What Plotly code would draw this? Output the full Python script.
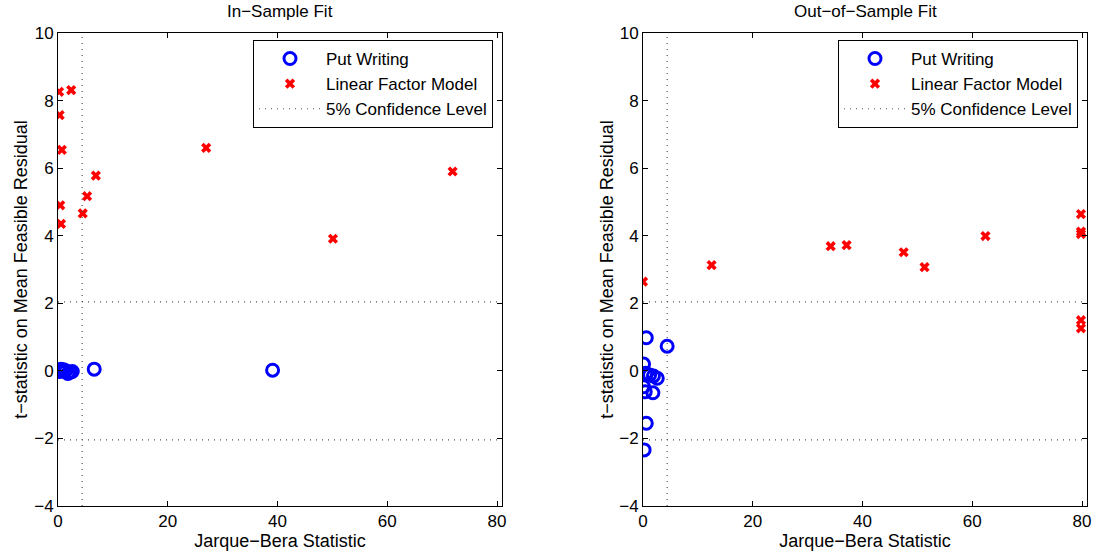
import plotly.graph_objects as go

# In-sample data
in_put_x = [0.3, 0.5, 0.8, 1.0, 1.4, 1.8, 2.2, 2.6, 6.6, 39.1]
in_put_y = [-0.02, 0.05, 0.0, 0.03, 0.0, -0.08, -0.04, -0.02, 0.05, 0.02]
in_lfm_x = [0.2, 2.4, 0.3, 0.7, 6.9, 5.3, 0.4, 4.5, 0.55, 27.0, 50.1, 71.9]
in_lfm_y = [8.26, 8.31, 7.57, 6.54, 5.78, 5.17, 4.90, 4.66, 4.35, 6.60, 3.91, 5.90]

# Out-of-sample data
out_put_x = [0.6, 4.4, 0.1, 0.5, 1.2, 1.9, 2.6, 0.1, 0.4, 1.8, 0.6, 0.2]
out_put_y = [0.98, 0.73, 0.2, -0.07, -0.12, -0.15, -0.22, -0.47, -0.62, -0.65, -1.55, -2.34]
out_lfm_x = [0.0, 12.5, 34.2, 37.1, 47.5, 51.3, 62.4, 79.8, 79.8, 79.8, 79.8, 79.8]
out_lfm_y = [2.64, 3.13, 3.69, 3.72, 3.51, 3.07, 3.99, 4.64, 4.12, 4.05, 1.50, 1.26]

jb_crit = 4.4
t_crit = 2.04
x_range = [0, 80.9]
y_range = [-4, 10]
x_ticks = [0, 20, 40, 60, 80]
y_ticks = [-4, -2, 0, 2, 4, 6, 8, 10]

FONT = "Liberation Sans, Arial, sans-serif"

fig = go.Figure()

def add_panel(px, py, lx, ly, xa, ya, legend):
    fig.add_trace(go.Scatter(x=px, y=py, mode="markers", name="Put Writing",
                             marker=dict(symbol="circle-open", size=12, color="#0000ff",
                                         line=dict(width=3, color="#0000ff")),
                             xaxis=xa, yaxis=ya, legend=legend))
    fig.add_trace(go.Scatter(x=lx, y=ly, mode="markers", name="Linear Factor Model",
                             marker=dict(symbol="x", size=9, color="#ff0000",
                                         line=dict(width=0)),
                             xaxis=xa, yaxis=ya, legend=legend))
    lx_ = [jb_crit, jb_crit, None, x_range[0], x_range[1], None, x_range[0], x_range[1]]
    ly_ = [y_range[0], y_range[1], None, t_crit, t_crit, None, -t_crit, -t_crit]
    fig.add_trace(go.Scatter(x=lx_, y=ly_, mode="lines", name="5% Confidence Level",
                             line=dict(color="#555555", width=1.2, dash="1px,5px"),
                             xaxis=xa, yaxis=ya, legend=legend, connectgaps=False))

add_panel(in_put_x, in_put_y, in_lfm_x, in_lfm_y, "x", "y", "legend")
add_panel(out_put_x, out_put_y, out_lfm_x, out_lfm_y, "x2", "y2", "legend2")

W, H = 1095, 558
yd = [52 / H, 525 / H]
axis_common = dict(showgrid=False, zeroline=False, showline=True, linecolor="black",
                   linewidth=1, mirror="ticks", ticks="inside", ticklen=5,
                   tickcolor="black", tickfont=dict(size=17, color="black"),
                   automargin=False)

ylab = "t\u2212statistic on Mean Feasible Residual"
xlab = "Jarque\u2212Bera Statistic"

fig.update_layout(
    width=W, height=H,
    margin=dict(l=0, r=0, t=0, b=0),
    paper_bgcolor="white", plot_bgcolor="white",
    font=dict(family=FONT, color="black", size=17),
    xaxis=dict(domain=[58 / W, 502 / W], range=x_range, tickvals=x_ticks, anchor="y",
               title=dict(text=xlab, font=dict(size=18), standoff=2),
               **axis_common),
    yaxis=dict(domain=yd, range=y_range, tickvals=y_ticks, anchor="x",
               title=dict(text=ylab, font=dict(size=18), standoff=1),
               **axis_common),
    xaxis2=dict(domain=[643 / W, 1087 / W], range=x_range, tickvals=x_ticks, anchor="y2",
                title=dict(text=xlab, font=dict(size=18), standoff=2),
                **axis_common),
    yaxis2=dict(domain=yd, range=y_range, tickvals=y_ticks, anchor="x2",
                title=dict(text=ylab, font=dict(size=18), standoff=0),
                **axis_common),
    legend=dict(x=493 / W, y=(H - 40) / H, xanchor="right", yanchor="top",
                bgcolor="white", bordercolor="black", borderwidth=1,
                font=dict(size=17), itemwidth=62, tracegroupgap=0),
    legend2=dict(x=1078 / W, y=(H - 40) / H, xanchor="right", yanchor="top",
                 bgcolor="white", bordercolor="black", borderwidth=1,
                 font=dict(size=17), itemwidth=62, tracegroupgap=0),
    annotations=[
        dict(text="In\u2212Sample Fit", x=(58 + 502) / 2 / W, y=(H - 12) / H, xref="paper", yref="paper",
             showarrow=False, font=dict(size=17), xanchor="center", yanchor="middle"),
        dict(text="Out\u2212of\u2212Sample Fit", x=(643 + 1087) / 2 / W, y=(H - 12) / H, xref="paper", yref="paper",
             showarrow=False, font=dict(size=17), xanchor="center", yanchor="middle"),
    ],
)

fig.write_html("out.html", config={"displayModeBar": False},
               post_script="document.body.style.margin='0';document.body.style.overflow='hidden';")
